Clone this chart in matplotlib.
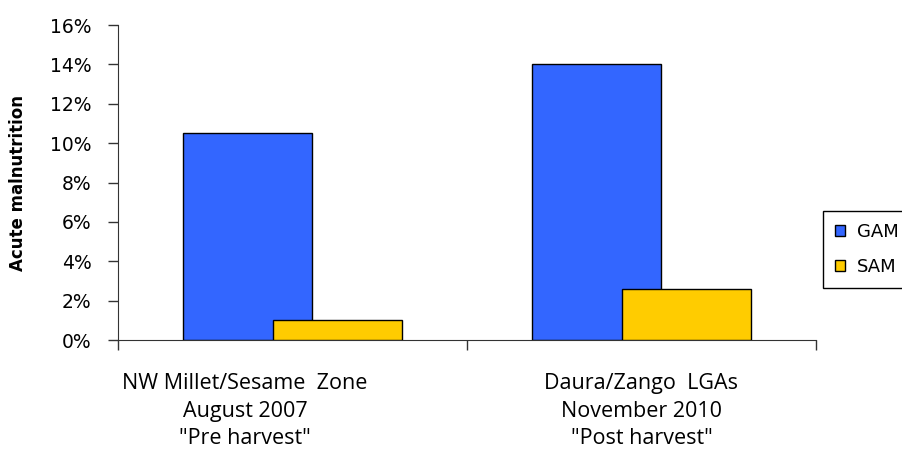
import matplotlib.pyplot as plt
import numpy as np
from matplotlib.ticker import PercentFormatter

# --- Data ---
categories = ['NW Millet/Sesame  Zone\nAugust 2007\n"Pre harvest"',
              'Daura/Zango  LGAs\nNovember 2010\n"Post harvest"']
gam = [10.5, 14.0]
sam = [1.0, 2.6]
series_names = ['GAM', 'SAM']
colors = ['#3366FF', '#FFCC00']

fig = plt.figure(figsize=(9.02, 4.5), dpi=100)
ax = fig.add_axes([0.1308, 0.2444, 0.7738, 0.70])

x = np.arange(len(categories))
width = 0.372
ax.bar(x - 0.129, gam, width, color=colors[0], edgecolor='black', linewidth=1, label=series_names[0], zorder=2)
ax.bar(x + 0.129, sam, width, color=colors[1], edgecolor='black', linewidth=1, label=series_names[1], zorder=3)

ax.set_xlim(-0.5, 1.5)
ax.set_ylim(0, 16)
ax.set_yticks(np.arange(0, 17, 2))
ax.yaxis.set_major_formatter(PercentFormatter(decimals=0))
ax.set_xticks([-0.5, 0.5, 1.5])
ax.set_xticklabels([])
ax.tick_params(axis='both', direction='out', length=7, width=1, color='#333333')
ax.tick_params(axis='y', labelsize=13.5, pad=12)

for side in ['top', 'right']:
    ax.spines[side].set_visible(False)
for side in ['left', 'bottom']:
    ax.spines[side].set_color('#333333')

# category labels, placed where the original has them (baseline = last line)
label_x = [-0.136, 1.0]
for lx, lab in zip(label_x, categories):
    ax.text(lx, -0.33, lab, transform=ax.get_xaxis_transform(), ha='center', va='baseline',
            fontsize=15.5, family='Open Sans', linespacing=1.4)

ax.set_ylabel('Acute malnutrition', fontsize=12, fontweight='bold')
ax.yaxis.set_label_coords(-0.131, 0.5)

ax.legend(loc='upper left', bbox_to_anchor=(823 / 902, 1 - 211 / 450), bbox_transform=fig.transFigure,
          borderaxespad=0, fancybox=False, edgecolor='black', fontsize=13,
          handlelength=0.55, handleheight=0.55, borderpad=0.65, labelspacing=0.95,
          handletextpad=0.7, framealpha=1)

plt.savefig('out.png', dpi=100)
